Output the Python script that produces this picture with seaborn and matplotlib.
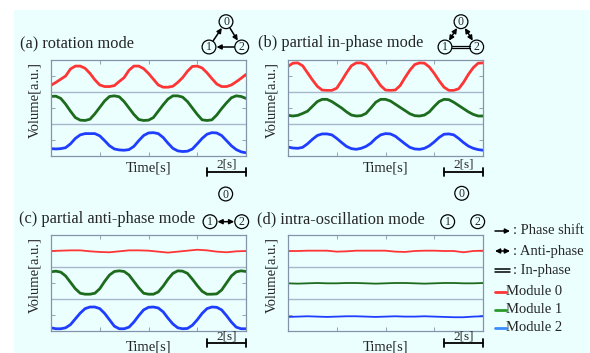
import matplotlib.pyplot as plt
import numpy as np
import pandas as pd
import seaborn as sns
from matplotlib.patches import Circle, Rectangle

W, H = 590, 353
BG = "#ebffff"
SPINE = "#8494a8"
BAND = "#a8b8cc"
LINE_COLORS = ["#ff3535", "#1d6b1d", "#1f3dff"]
LEGEND_COLORS = ["#ff3535", "#2a9a2a", "#3a8cff"]
MODULES = ["Module 0", "Module 1", "Module 2"]

# time axes [s]
t = np.linspace(0, 10, 41)
t_flat = np.linspace(0, 10, 21)

# (a) rotation mode, values inside each band (0..1)
rot_m0 = [0.21, 0.30, 0.40, 0.50, 0.72, 0.81, 0.81, 0.74, 0.58, 0.38, 0.22, 0.17, 0.17,
          0.20, 0.33, 0.45, 0.68, 0.81, 0.81, 0.73, 0.58, 0.40, 0.22, 0.15, 0.15, 0.18,
          0.30, 0.45, 0.65, 0.80, 0.81, 0.75, 0.60, 0.42, 0.25, 0.17, 0.17, 0.22, 0.32,
          0.43, 0.55]
rot_m1 = [0.86, 0.87, 0.80, 0.62, 0.40, 0.20, 0.12, 0.11, 0.15, 0.32, 0.52, 0.72, 0.86,
          0.88, 0.85, 0.70, 0.50, 0.30, 0.14, 0.11, 0.12, 0.20, 0.40, 0.60, 0.78, 0.88,
          0.88, 0.84, 0.70, 0.50, 0.30, 0.13, 0.11, 0.13, 0.28, 0.48, 0.66, 0.82, 0.88,
          0.86, 0.80]
rot_m2 = [0.23, 0.22, 0.23, 0.26, 0.38, 0.55, 0.66, 0.70, 0.70, 0.70, 0.63, 0.48, 0.32,
          0.22, 0.19, 0.18, 0.20, 0.30, 0.48, 0.64, 0.72, 0.73, 0.70, 0.58, 0.40, 0.24,
          0.16, 0.14, 0.15, 0.22, 0.38, 0.55, 0.68, 0.73, 0.72, 0.64, 0.48, 0.32, 0.20,
          0.13, 0.10]

# (b) partial in-phase mode
inph_m0 = [0.80, 0.90, 0.91, 0.82, 0.60, 0.38, 0.18, 0.06, 0.05, 0.05, 0.12, 0.35, 0.60,
           0.82, 0.91, 0.91, 0.85, 0.65, 0.42, 0.20, 0.06, 0.05, 0.06, 0.20, 0.45, 0.68,
           0.86, 0.91, 0.90, 0.78, 0.58, 0.35, 0.15, 0.05, 0.05, 0.10, 0.30, 0.55, 0.76,
           0.90, 0.91]
inph_m1 = [0.27, 0.25, 0.27, 0.33, 0.40, 0.55, 0.70, 0.77, 0.77, 0.70, 0.60, 0.50, 0.38,
           0.28, 0.25, 0.26, 0.33, 0.50, 0.68, 0.77, 0.77, 0.72, 0.62, 0.52, 0.42, 0.32,
           0.26, 0.25, 0.28, 0.38, 0.55, 0.70, 0.77, 0.76, 0.68, 0.58, 0.48, 0.38, 0.30,
           0.25, 0.25]
inph_m2 = [0.28, 0.25, 0.24, 0.27, 0.38, 0.52, 0.64, 0.69, 0.69, 0.66, 0.55, 0.42, 0.30,
           0.23, 0.21, 0.24, 0.30, 0.40, 0.55, 0.66, 0.70, 0.69, 0.62, 0.50, 0.38, 0.27,
           0.22, 0.21, 0.24, 0.32, 0.44, 0.58, 0.68, 0.69, 0.66, 0.55, 0.42, 0.31, 0.24,
           0.20, 0.18]

# (c) partial anti-phase mode
anti_m0 = [0.50, 0.51, 0.52, 0.52, 0.49, 0.47, 0.46, 0.49, 0.52, 0.52, 0.51, 0.48, 0.45,
           0.48, 0.51, 0.54, 0.52, 0.48, 0.46, 0.49, 0.50]
anti_m1 = [0.85, 0.87, 0.84, 0.72, 0.52, 0.32, 0.18, 0.15, 0.15, 0.18, 0.32, 0.55, 0.75,
           0.86, 0.88, 0.86, 0.75, 0.55, 0.35, 0.18, 0.15, 0.15, 0.22, 0.40, 0.62, 0.80,
           0.88, 0.87, 0.80, 0.62, 0.42, 0.24, 0.15, 0.15, 0.16, 0.28, 0.50, 0.72, 0.85,
           0.88, 0.86]
anti_m2 = [0.10, 0.07, 0.07, 0.10, 0.20, 0.38, 0.56, 0.70, 0.75, 0.75, 0.70, 0.55, 0.35,
           0.15, 0.07, 0.07, 0.12, 0.28, 0.48, 0.66, 0.74, 0.75, 0.72, 0.60, 0.40, 0.22,
           0.10, 0.07, 0.08, 0.18, 0.35, 0.55, 0.70, 0.75, 0.74, 0.66, 0.48, 0.28, 0.12,
           0.07, 0.07]

# (d) intra-oscillation mode
intra_m0 = [0.50, 0.50, 0.51, 0.51, 0.51, 0.48, 0.49, 0.51, 0.51, 0.51, 0.51, 0.48, 0.47,
            0.50, 0.51, 0.51, 0.50, 0.50, 0.46, 0.50, 0.51]
intra_m1 = [0.49, 0.48, 0.49, 0.50, 0.49, 0.49, 0.50, 0.50, 0.49, 0.48, 0.49, 0.50, 0.50,
            0.49, 0.48, 0.49, 0.50, 0.50, 0.49, 0.49, 0.50]
intra_m2 = [0.44, 0.45, 0.46, 0.45, 0.44, 0.45, 0.46, 0.46, 0.45, 0.44, 0.45, 0.46, 0.45,
            0.45, 0.46, 0.45, 0.44, 0.43, 0.43, 0.45, 0.46]

sns.set_theme(style="white")
plt.rcParams["font.family"] = ["Liberation Serif", "DejaVu Serif"]

fig = plt.figure(figsize=(W / 100, H / 100), dpi=100)
fig.patch.set_facecolor("white")

# full-figure overlay in pixel coordinates for text / diagrams
bg = fig.add_axes([0, 0, 1, 1])
bg.set_xlim(0, W)
bg.set_ylim(H, 0)
bg.axis("off")
bg.add_patch(Rectangle((14, 10), W - 14, H - 10, color=BG, lw=0, zorder=0))


def px_rect(x0, y0, x1, y1):
    return [x0 / W, 1 - y1 / H, (x1 - x0) / W, (y1 - y0) / H]


def draw_panel(rect, curves, bar_gap, label_gap):
    ax = fig.add_axes(px_rect(*rect))
    ax.set_facecolor(BG)
    for k, (x, vals, lw) in enumerate(curves):
        df = pd.DataFrame({"t": x, "v": np.asarray(vals) + 2 - k})
        sns.lineplot(data=df, x="t", y="v", ax=ax, color=LINE_COLORS[k],
                     linewidth=lw, estimator=None)
    ax.set_xlim(0, 10)
    ax.set_ylim(0, 3)
    for yb in (1, 2):
        ax.axhline(yb, color=BAND, lw=1.0)
    ax.set_xticks([2.5, 5, 7.5])
    ax.set_yticks([0.5, 1.5, 2.5])
    ax.tick_params(direction="in", length=3, width=0.6, color=SPINE,
                   top=True, right=True, bottom=True, left=True,
                   labelbottom=False, labelleft=False)
    ax.set_xlabel("")
    ax.set_ylabel("")
    for s in ax.spines.values():
        s.set_color(SPINE)
        s.set_linewidth(0.9)

    # 2 s scale bar under the right end
    ybar = -bar_gap / 32
    ax.plot([8, 10], [ybar, ybar], color="black", lw=1.3, clip_on=False)
    for xe in (8, 10):
        ax.plot([xe, xe], [ybar - 0.13, ybar + 0.13], color="black", lw=1.3, clip_on=False)
    ax.text(9, ybar + 0.03, "2[s]", ha="center", va="bottom", fontsize=9.5)
    ax.text(5, -label_gap / 32, "Time[s]", ha="center", va="center", fontsize=10.5)
    ax.text(-0.82, 1.75, "Volume[a.u.]", rotation=90, ha="center", va="center",
            fontsize=10.5)
    return ax


draw_panel((51, 60, 246, 156), [(t, rot_m0, 2.0), (t, rot_m1, 2.0), (t, rot_m2, 2.0)], 15.7, 12)
draw_panel((288, 60, 483, 156), [(t, inph_m0, 2.0), (t, inph_m1, 2.0), (t, inph_m2, 2.0)], 15.7, 12)
draw_panel((51, 235, 246, 331), [(t_flat, anti_m0, 1.3), (t, anti_m1, 2.0), (t, anti_m2, 2.0)], 12.3, 15.7)
draw_panel((288, 235, 483, 331), [(t_flat, intra_m0, 1.3), (t_flat, intra_m1, 1.3), (t_flat, intra_m2, 1.3)], 12.3, 15.7)

# panel titles
bg.text(20, 43, "(a) rotation mode", fontsize=11.8, va="center")
bg.text(258, 43, "(b) partial in-phase mode", fontsize=11.8, va="center")
bg.text(19, 219, "(c) partial anti-phase mode", fontsize=11.8, va="center")
bg.text(257, 219, "(d) intra-oscillation mode", fontsize=11.8, va="center")


def node(x, y, label):
    bg.add_patch(Circle((x, y), 6.9, facecolor="none", edgecolor="black", lw=0.9, zorder=3))
    bg.text(x, y + 0.5, label, ha="center", va="center", fontsize=8.5, zorder=4)


def link(p, q, style):
    bg.annotate("", xy=q, xytext=p,
                arrowprops=dict(arrowstyle=style, color="black", lw=1.1,
                                shrinkA=5.4, shrinkB=5.4, mutation_scale=7))


def in_phase(p, q):
    for dy in (-1.2, 1.2):
        bg.plot([p[0] + 6.9, q[0] - 6.9], [p[1] + dy, q[1] + dy], color="black", lw=0.9)


# (a) diagram
a0, a1, a2 = (226, 21.7), (209, 47), (241.7, 47)
for pos, lab in zip((a0, a1, a2), "012"):
    node(*pos, lab)
link(a1, a0, "-|>")
link(a0, a2, "-|>")
link(a2, a1, "-|>")

# (b) diagram
b0, b1, b2 = (461, 21.7), (445, 47), (476.7, 47)
for pos, lab in zip((b0, b1, b2), "012"):
    node(*pos, lab)
link(b0, b1, "<|-|>")
link(b0, b2, "<|-|>")
in_phase(b1, b2)

# (c) diagram
c0, c1, c2 = (225.7, 194), (210, 221.7), (241.7, 221.7)
for pos, lab in zip((c0, c1, c2), "012"):
    node(*pos, lab)
link(c1, c2, "<|-|>")

# (d) diagram
for pos, lab in zip(((461.7, 193.3), (447.7, 221.7), (477.7, 221.7)), "012"):
    node(*pos, lab)

# legend on the right
bg.annotate("", xy=(510, 231), xytext=(495, 231),
            arrowprops=dict(arrowstyle="-|>", color="black", lw=1.1, mutation_scale=7,
                            shrinkA=0, shrinkB=0))
bg.text(513, 231, ": Phase shift", fontsize=10.5, va="center")
bg.annotate("", xy=(510, 251), xytext=(495, 251),
            arrowprops=dict(arrowstyle="<|-|>", color="black", lw=1.1, mutation_scale=7,
                            shrinkA=0, shrinkB=0))
bg.text(513, 251, ": Anti-phase", fontsize=10.5, va="center")
for dy in (-1.3, 1.3):
    bg.plot([495, 510], [270.5 + dy, 270.5 + dy], color="black", lw=1.1)
bg.text(513, 270.5, ": In-phase", fontsize=10.5, va="center")
for k, ypos in enumerate((291.7, 309.5, 327.7)):
    bg.plot([495, 506], [ypos, ypos], color=LEGEND_COLORS[k], lw=2.0)
    bg.text(506.5, ypos, MODULES[k], fontsize=10.5, va="center")

fig.savefig("out.png", dpi=100, facecolor=fig.get_facecolor())
